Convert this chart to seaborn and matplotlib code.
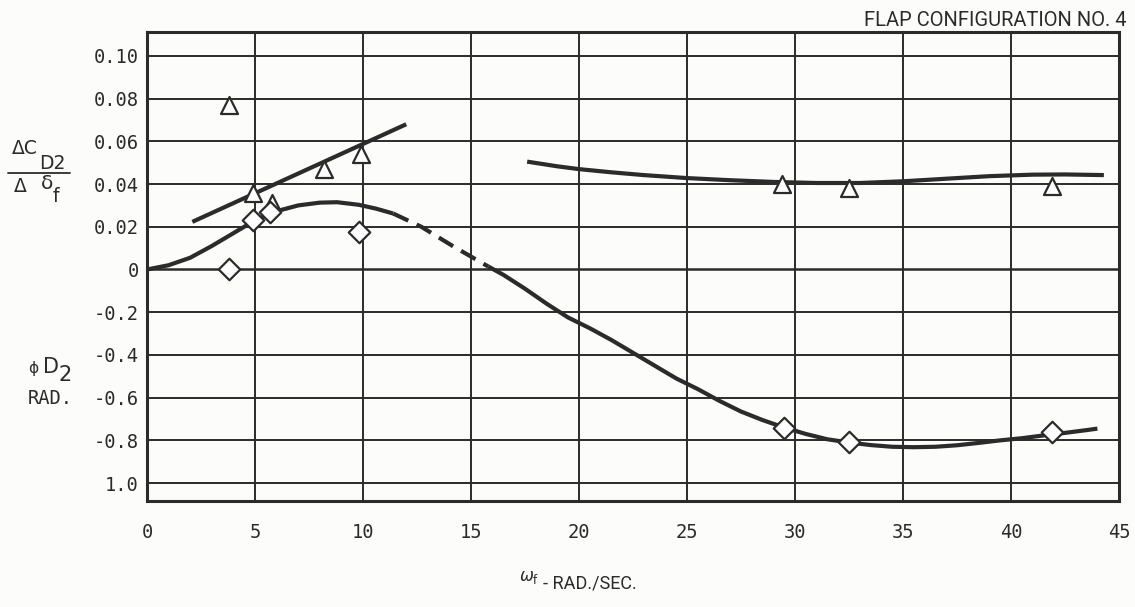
import matplotlib
matplotlib.use("Agg")
import matplotlib.pyplot as plt
from matplotlib.lines import Line2D
import seaborn as sns
import pandas as pd
import numpy as np

# ---- data -------------------------------------------------------------
# drag-coefficient derivative (triangles) and drag phase angle (diamonds)
tri_x = [3.8, 4.9, 5.8, 8.2, 9.9, 29.4, 32.5, 41.9]
tri_cd = [0.077, 0.036, 0.031, 0.047, 0.054, 0.040, 0.038, 0.039]

dia_x = [3.8, 4.9, 5.7, 9.8, 29.5, 32.5, 41.9]
dia_phase = [0.0, 0.23, 0.27, 0.177, -0.74, -0.81, -0.76]   # rad

# faired curves
cd_line_x = [2.1, 12.0]
cd_line_y = [0.0223, 0.068]

cd_high_x = [17.6, 19.0, 20.0, 21.5, 23.0, 25.0, 27.0, 29.0, 31.0, 33.0,
             35.0, 37.0, 39.0, 41.0, 42.5, 44.3]
cd_high_y = [0.0505, 0.0483, 0.0470, 0.0455, 0.0442, 0.0428, 0.0418, 0.0410,
             0.0405, 0.0405, 0.0413, 0.0425, 0.0437, 0.0444, 0.0445, 0.0442]

ph_solid1_x = [0.0, 1.0, 2.0, 3.0, 4.0, 5.0, 6.0, 7.0, 8.0, 8.8, 9.8, 10.6, 11.4]
ph_solid1_y = [0.0, 0.02, 0.055, 0.11, 0.17, 0.23, 0.273, 0.30, 0.313,
               0.315, 0.303, 0.285, 0.262]

ph_dash_x = [11.4, 12.7, 14.2, 15.8]
ph_dash_y = [0.262, 0.20, 0.107, 0.014]

ph_solid2_x = [15.8, 16.5, 17.5, 18.5, 19.5, 20.5, 21.5, 22.5, 23.5, 24.5,
               25.5, 26.5, 27.5, 28.5, 29.5, 30.5, 31.5, 32.5, 33.5, 34.5,
               35.5, 36.5, 37.5, 38.5, 39.5, 40.5, 41.5, 42.5, 43.5, 44.0]
ph_solid2_y = [0.014, -0.025, -0.09, -0.16, -0.225, -0.275, -0.33, -0.39,
               -0.45, -0.51, -0.56, -0.615, -0.665, -0.705, -0.74, -0.77,
               -0.795, -0.81, -0.822, -0.83, -0.832, -0.83, -0.823, -0.812,
               -0.80, -0.79, -0.777, -0.765, -0.752, -0.745]

x_ticks = [0, 5, 10, 15, 20, 25, 30, 35, 40, 45]
y_tick_labels = ["1.0", "-0.8", "-0.6", "-0.4", "-0.2", "0",
                 "0.02", "0.04", "0.06", "0.08", "0.10"]

# both quantities share one grid: one division = 0.02 (coefficient) = 0.2 rad (phase)
CD_PER_DIV = 0.02
PH_PER_DIV = 0.2


def cd_grid(v):
    return np.asarray(v) / CD_PER_DIV


def ph_grid(v):
    return np.asarray(v) / PH_PER_DIV


# ---- figure -----------------------------------------------------------
sns.set_style("white")
plt.rcParams["mathtext.fontset"] = "dejavusans"

ink = "#2b2b2b"
paper = "#fcfcfb"
W, H = 1135, 607

fig = plt.figure(figsize=(W / 100, H / 100), dpi=100, facecolor=paper)
ax = fig.add_axes([0.1295, 0.1746, 0.8564, 0.7727])
ax.set_facecolor(paper)

ax.set_xlim(0, 45)
ax.set_ylim(-5.42, 5.56)

# grid
for gx in x_ticks[1:-1]:
    ax.axvline(gx, color=ink, lw=1.4, zorder=1)
for gy in range(-5, 6):
    ax.axhline(gy, color=ink, lw=1.4 if gy != 0 else 1.8, zorder=1)
for s in ax.spines.values():
    s.set_color(ink)
    s.set_linewidth(2.2)

curve_kw = dict(color=ink, linewidth=3.0, zorder=3, legend=False)

sns.lineplot(x=cd_line_x, y=cd_grid(cd_line_y), ax=ax, **curve_kw)
sns.lineplot(x=cd_high_x, y=cd_grid(cd_high_y), ax=ax, **curve_kw)
sns.lineplot(x=ph_solid1_x, y=ph_grid(ph_solid1_y), ax=ax, **curve_kw)
sns.lineplot(x=ph_solid2_x, y=ph_grid(ph_solid2_y), ax=ax, **curve_kw)
sns.lineplot(x=ph_dash_x, y=ph_grid(ph_dash_y), ax=ax, **curve_kw)
ax.lines[-1].set_dashes([4.0, 2.2])
for ln in ax.lines:
    ln.set_solid_capstyle("butt")

tri_df = pd.DataFrame({"x": tri_x, "y": cd_grid(tri_cd)})
dia_df = pd.DataFrame({"x": dia_x, "y": ph_grid(dia_phase)})
sns.scatterplot(data=tri_df, x="x", y="y", marker="^", s=150, color="white",
                edgecolor=ink, linewidth=1.6, zorder=5, ax=ax, legend=False)
sns.scatterplot(data=dia_df, x="x", y="y", marker="D", s=120, color="white",
                edgecolor=ink, linewidth=1.6, zorder=5, ax=ax, legend=False)

# ticks
tick_font = dict(family="DejaVu Sans Mono", size=13.5, color=ink)
ax.set_xticks(x_ticks)
ax.set_xticklabels([str(t) for t in x_ticks], **tick_font)
ax.set_yticks(range(-5, 6))
ax.set_yticklabels(y_tick_labels, **tick_font)
ax.tick_params(axis="x", length=0, pad=16)
ax.tick_params(axis="y", length=0, pad=6)
ax.set_xlabel("")
ax.set_ylabel("")


def px(x, y):
    """figure fraction from pixel position (origin top-left)"""
    return x / W, 1 - y / H


cap_font = dict(family="DejaVu Sans", color=ink)

# title
fig.text(*px(1126, 21), "FLAP CONFIGURATION NO. 4", ha="right", va="center",
         family=["Roboto", "DejaVu Sans"], fontsize=14.5, color=ink)

# upper scale caption:  delta C_D2 / delta delta_f
fig.text(*px(12, 149), "\u0394C", ha="left", va="center", fontsize=13.5, **cap_font)
fig.text(*px(39, 163), "D2", ha="left", va="center", fontsize=13.5, **cap_font)
fig.add_artist(Line2D([8 / W, 70 / W], [1 - 173 / H, 1 - 173 / H],
                      color=ink, lw=1.3))
fig.text(*px(14, 186), "\u0394", ha="left", va="center", fontsize=13.5, **cap_font)
fig.text(*px(41, 184), "\u03b4", ha="left", va="center", fontsize=14.5, **cap_font)
fig.text(*px(53, 197), "f", ha="left", va="center", fontsize=13.5, **cap_font)

# lower scale caption:  phi D_2  RAD.
fig.text(*px(28, 368), "\u03d5", ha="left", va="center", fontsize=11, **cap_font)
fig.text(*px(43, 367), "D", ha="left", va="center", fontsize=15, **cap_font)
fig.text(*px(59, 375), "2", ha="left", va="center", fontsize=15, **cap_font)
fig.text(*px(50, 398), "RAD.", ha="center", va="center",
         family="DejaVu Sans Mono", fontsize=13.5, color=ink)

# x axis caption
fig.text(*px(539, 577), r"$\omega_{\mathrm{f}}$", ha="right", va="center",
         fontsize=12, color=ink)
fig.text(*px(543, 583), "- RAD./SEC.", ha="left", va="center",
         family=["Roboto", "DejaVu Sans"], fontsize=13, color=ink)

fig.savefig("out.png", dpi=100, facecolor=paper)
